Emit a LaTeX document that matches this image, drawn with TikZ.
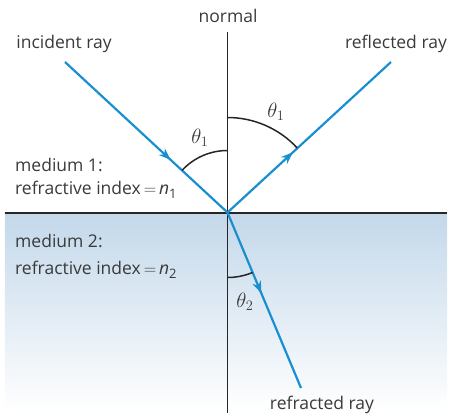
\documentclass[tikz,border=0pt]{standalone}
\usepackage{fontspec}
\setmainfont{Open Sans}
\usetikzlibrary{decorations.markings,arrows.meta}
\definecolor{ray}{HTML}{1A8FD0}
\definecolor{txt}{HTML}{3A3A3A}
\definecolor{water}{HTML}{C3D8EA}
\tikzset{
  raystyle/.style={draw=ray,line width=2.2pt},
  arrowat/.style={postaction={decorate},decoration={markings,mark=at position #1 with {\arrow{Stealth[length=12pt,width=9pt]}}}},
  lbl/.style={text=txt,font=\fontsize{17.5}{20}\selectfont,inner sep=0pt},
  anglbl/.style={text=txt,font=\fontsize{21}{24}\selectfont,inner sep=0pt},
  anglearc/.style={draw=black!85,line width=1.5pt}
}
\newcommand{\sub}[1]{{\raisebox{-0.4ex}{\fontsize{13}{15}\selectfont #1}}}
\begin{document}
\begin{tikzpicture}[x=1pt,y=1pt]
\useasboundingbox (-227.5,-203.5) rectangle (222.5,212.5);
\shade[top color=water,bottom color=white] (-222.5,0) rectangle (219.5,-200);
\coordinate (O) at (0,0);
\coordinate (ntop) at (0,180.5);
\coordinate (nbot) at (0,-200.5);
\coordinate (il) at (-222.5,0);
\coordinate (ir) at (219.5,0);
\coordinate (inc) at (-162.5,150.5);
\coordinate (refl) at (163.5,150.5);
\coordinate (refr) at (73.5,-175.5);
\draw[black!85,line width=1.5pt] (ntop) -- (nbot);
\draw[black!85,line width=2pt] (il) -- (ir);
\path[raystyle,arrowat=0.65] (inc) -- (O);
\path[raystyle,arrowat=0.40] (O) -- (refl);
\path[raystyle,arrowat=0.46] (O) -- (refr);
\draw[anglearc] (0,62) arc[start angle=90,end angle=137.2,radius=62];
\draw[anglearc] (0,95) arc[start angle=90,end angle=42.8,radius=95];
\draw[anglearc] (0,-65) arc[start angle=270,end angle=292.7,radius=65];
\node[anglbl] (t1a) at (-27.5,74.5) {$\theta_1$};
\node[anglbl] (t1b) at (48.5,100.5) {$\theta_1$};
\node[anglbl] (t2) at (17.5,-89.5) {$\theta_2$};
\node[lbl] (normal) at (0.5,196.5) {normal};
\node[lbl] (incl) at (-163.5,168.5) {incident ray};
\node[lbl] (refll) at (168.5,168.5) {reflected ray};
\node[lbl,anchor=west] (m1) at (-212.5,47.5) {medium 1:};
\node[lbl,anchor=west] (n1) at (-212.5,22.5) {refractive index\,$=$\,\textit{n}\sub{1}};
\node[lbl,anchor=west] (m2) at (-212.5,-28.5) {medium 2:};
\node[lbl,anchor=west] (n2) at (-212.5,-57.5) {refractive index\,$=$\,\textit{n}\sub{2}};
\node[lbl] (refrl) at (94.5,-192.5) {refracted ray};
\end{tikzpicture}
\end{document}
